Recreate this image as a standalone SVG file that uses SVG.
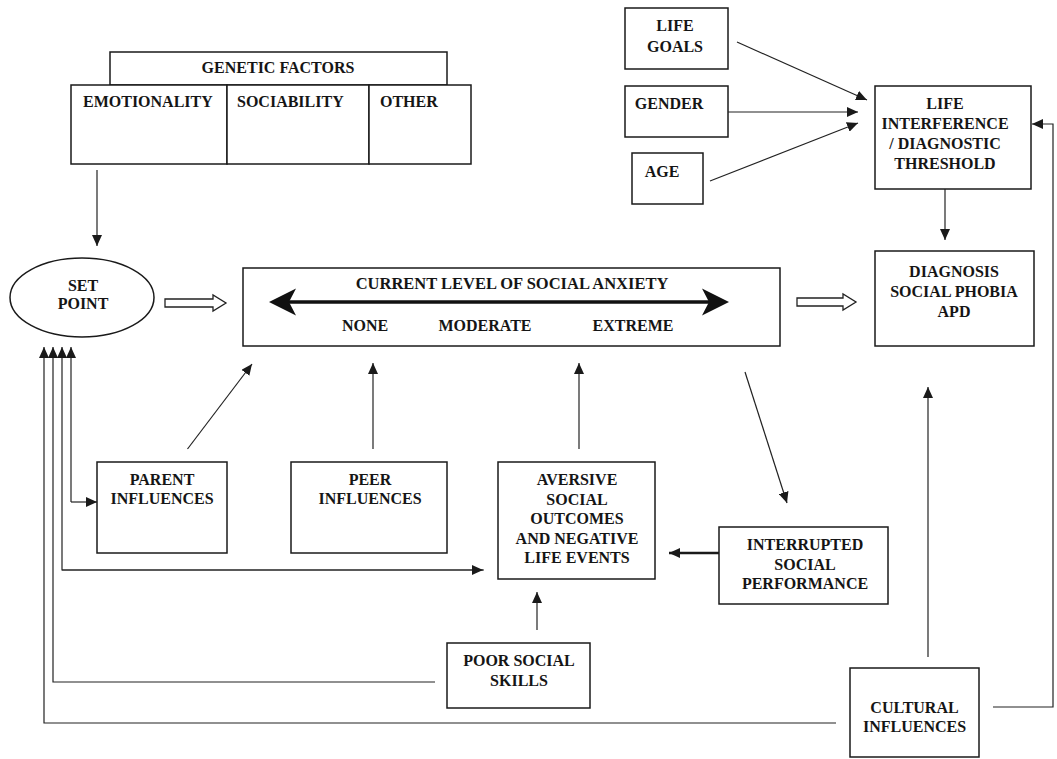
<svg xmlns="http://www.w3.org/2000/svg" width="1057" height="759" viewBox="0 0 1057 759">
<style>
.box{fill:#fff;stroke:#1a1a1a;stroke-width:1.5}
.t{font-family:"Liberation Serif","Times New Roman",serif;font-weight:bold;font-size:16px;fill:#151515;text-anchor:middle}
.tl{font-family:"Liberation Serif","Times New Roman",serif;font-weight:bold;font-size:16px;fill:#151515}
.ln{fill:none;stroke:#222;stroke-width:1.2}
.hol{fill:#fff;stroke:#222;stroke-width:1.3}
</style>
<defs>
<marker id="ah" markerUnits="userSpaceOnUse" markerWidth="12" markerHeight="10" refX="11" refY="5" orient="auto">
<path d="M0,0 L11,5 L0,10 Z" fill="#1a1a1a"/>
</marker>
</defs>
<rect width="1057" height="759" fill="#fff"/>

<g id="genetic">
<rect class="box" x="110" y="52" width="337" height="33"/>
<text class="t" x="278" y="73">GENETIC FACTORS</text>
</g>
<g id="emotionality">
<rect class="box" x="71" y="85" width="156" height="79"/>
<text class="tl" x="83" y="107">EMOTIONALITY</text>
</g>
<g id="sociability">
<rect class="box" x="227" y="85" width="142" height="79"/>
<text class="tl" x="237" y="107">SOCIABILITY</text>
</g>
<g id="other">
<rect class="box" x="369" y="85" width="102" height="79"/>
<text class="tl" x="380" y="107">OTHER</text>
</g>

<g id="setpoint">
<ellipse class="box" cx="82" cy="297.5" rx="72" ry="39.5"/>
<text class="t" x="83" y="290.5">SET</text>
<text class="t" x="83" y="308.5">POINT</text>
</g>

<g id="current">
<rect class="box" x="243" y="268" width="537" height="78"/>
<text class="t" x="512" y="289" style="font-size:16.5px">CURRENT LEVEL OF SOCIAL ANXIETY</text>
<line x1="286" y1="302" x2="712" y2="302" stroke="#111" stroke-width="3.5"/>
<polygon points="269,302 296,288.5 289,302 296,315.5" fill="#111"/>
<polygon points="729,302 702,288.5 709,302 702,315.5" fill="#111"/>
<text class="t" x="365" y="331">NONE</text>
<text class="t" x="485" y="331">MODERATE</text>
<text class="t" x="633" y="331">EXTREME</text>
</g>

<g id="lifegoals">
<rect class="box" x="625" y="8" width="103" height="61"/>
<text class="t" x="675" y="30.5">LIFE</text>
<text class="t" x="675" y="51.5">GOALS</text>
</g>
<g id="gender">
<rect class="box" x="625" y="86" width="103" height="51"/>
<text class="t" x="669" y="108.5">GENDER</text>
</g>
<g id="age">
<rect class="box" x="632" y="153" width="71" height="51"/>
<text class="t" x="662" y="176.5">AGE</text>
</g>
<g id="interference">
<rect class="box" x="875" y="86" width="156" height="103"/>
<text class="t" x="945" y="109">LIFE</text>
<text class="t" x="945" y="129">INTERFERENCE</text>
<text class="t" x="945" y="149">/ DIAGNOSTIC</text>
<text class="t" x="945" y="169">THRESHOLD</text>
</g>
<g id="diagnosis">
<rect class="box" x="875" y="251" width="159" height="95"/>
<text class="t" x="954" y="276.5">DIAGNOSIS</text>
<text class="t" x="954" y="296.5">SOCIAL PHOBIA</text>
<text class="t" x="954" y="316.5">APD</text>
</g>

<g id="parent">
<rect class="box" x="97" y="462" width="130" height="91"/>
<text class="t" x="162" y="484.5">PARENT</text>
<text class="t" x="162" y="503.5">INFLUENCES</text>
</g>
<g id="peer">
<rect class="box" x="291" y="462" width="156" height="91"/>
<text class="t" x="370" y="484.5">PEER</text>
<text class="t" x="370" y="503.5">INFLUENCES</text>
</g>
<g id="aversive">
<rect class="box" x="498" y="462" width="157" height="117"/>
<text class="t" x="577" y="484.5">AVERSIVE</text>
<text class="t" x="577" y="504.5">SOCIAL</text>
<text class="t" x="577" y="523.5">OUTCOMES</text>
<text class="t" x="577" y="543.5">AND NEGATIVE</text>
<text class="t" x="577" y="562.5">LIFE EVENTS</text>
</g>
<g id="interrupted">
<rect class="box" x="719" y="527" width="169" height="77"/>
<text class="t" x="805" y="549.5">INTERRUPTED</text>
<text class="t" x="805" y="569.5">SOCIAL</text>
<text class="t" x="805" y="588.5">PERFORMANCE</text>
</g>
<g id="poorskills">
<rect class="box" x="447" y="643" width="143" height="65"/>
<text class="t" x="519" y="665.5">POOR SOCIAL</text>
<text class="t" x="519" y="685.5">SKILLS</text>
</g>
<g id="cultural">
<rect class="box" x="850" y="668" width="129" height="89"/>
<text class="t" x="914.5" y="712.5">CULTURAL</text>
<text class="t" x="914.5" y="731.5">INFLUENCES</text>
</g>

<g id="connectors">
<line class="ln" x1="97" y1="170" x2="97" y2="246" marker-end="url(#ah)"/>
<path class="hol" d="M165,299 H213 V295 L226,303 L213,311 V307 H165 Z"/>
<path class="hol" d="M797,298 H843 V294 L856,302 L843,310 V306 H797 Z"/>
<line class="ln" x1="737" y1="42" x2="867" y2="100" marker-end="url(#ah)"/>
<line class="ln" x1="728" y1="112" x2="858" y2="112" marker-end="url(#ah)"/>
<line class="ln" x1="710" y1="181" x2="858" y2="123" marker-end="url(#ah)"/>
<line class="ln" x1="945" y1="189" x2="945" y2="240" marker-end="url(#ah)"/>
<polyline class="ln" points="993,707 1053,707 1053,124 1032,124" marker-end="url(#ah)"/>
<line class="ln" x1="928" y1="657" x2="928" y2="387" marker-end="url(#ah)"/>
<line class="ln" x1="187.5" y1="449" x2="252" y2="364" marker-end="url(#ah)"/>
<line class="ln" x1="373" y1="449" x2="373" y2="363" marker-end="url(#ah)"/>
<line class="ln" x1="579" y1="449" x2="579" y2="363" marker-end="url(#ah)"/>
<line class="ln" x1="745" y1="372" x2="787" y2="503" marker-end="url(#ah)"/>
<line x1="719" y1="553" x2="669" y2="553" stroke="#1a1a1a" stroke-width="2.5" marker-end="url(#ah)"/>
<line class="ln" x1="537" y1="630" x2="537" y2="592" marker-end="url(#ah)"/>
<polyline class="ln" points="71,502 71,347" marker-end="url(#ah)"/>
<polyline class="ln" points="71,502 97,502" marker-end="url(#ah)"/>
<polyline class="ln" points="484,570 62,570 62,347" marker-end="url(#ah)"/>
<polyline class="ln" points="62,570 483,570" marker-end="url(#ah)"/>
<polyline class="ln" points="435,682 53,682 53,347" marker-end="url(#ah)"/>
<polyline class="ln" points="836,723 44,723 44,347" marker-end="url(#ah)"/>
</g>
</svg>
